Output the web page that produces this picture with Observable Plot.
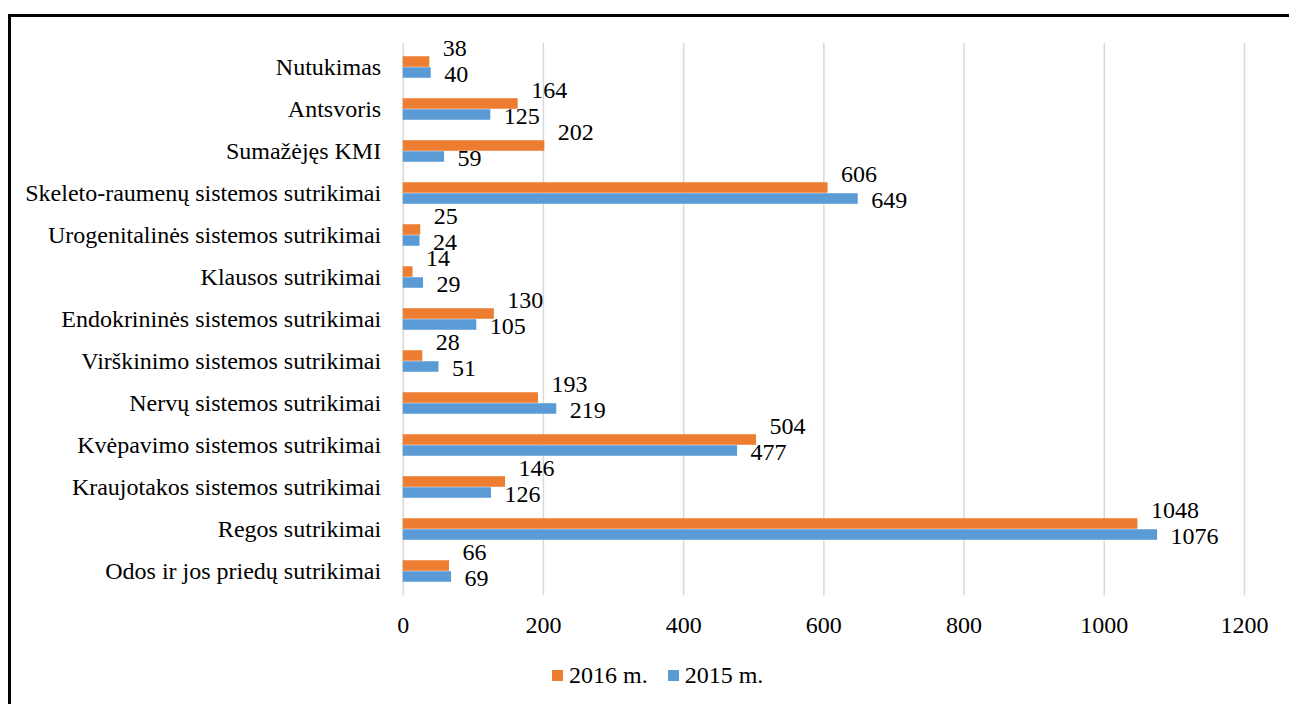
<!DOCTYPE html>
<html>
<head>
<meta charset="utf-8">
<script src="https://cdn.jsdelivr.net/npm/d3@7"></script>
<script src="https://cdn.jsdelivr.net/npm/@observablehq/plot@0.6"></script>
<style>
  html, body { margin: 0; padding: 0; background: #fff; overflow: hidden; }
  #wrap { position: relative; width: 1289px; height: 704px; overflow: hidden; background: #fff; font-family: "Liberation Serif", serif; }
  #frame { position: absolute; left: 8px; top: 14px; width: 1400px; height: 800px; border-left: 3px solid #000; border-top: 3px solid #000; box-sizing: border-box; }
  #chart { position: absolute; left: 0; top: 0; width: 1289px; }
  #legend { position: absolute; left: 552px; top: 662px; display: flex; align-items: center; font-size: 24px; color: #000; white-space: nowrap; }
  .sw { width: 11px; height: 11px; display: inline-block; margin-right: 6px; }
  .item { display: flex; align-items: center; margin-right: 20px; }
</style>
</head>
<body>
<div id="wrap">
  <div id="frame"></div>
  <div id="chart"></div>
  <div id="legend"></div>
</div>
<script>
const categories = [
  "Nutukimas",
  "Antsvoris",
  "Sumažėjęs KMI",
  "Skeleto-raumenų sistemos sutrikimai",
  "Urogenitalinės sistemos sutrikimai",
  "Klausos sutrikimai",
  "Endokrininės sistemos sutrikimai",
  "Virškinimo sistemos sutrikimai",
  "Nervų sistemos sutrikimai",
  "Kvėpavimo sistemos sutrikimai",
  "Kraujotakos sistemos sutrikimai",
  "Regos sutrikimai",
  "Odos ir jos priedų sutrikimai"
];
const values2016 = [38, 164, 202, 606, 25, 14, 130, 28, 193, 504, 146, 1048, 66];
const values2015 = [40, 125, 59, 649, 24, 29, 105, 51, 219, 477, 126, 1076, 69];
const series = ["2016 m.", "2015 m."];
const colors = ["#ED7D31", "#5B9BD5"];
const xTicks = [0, 200, 400, 600, 800, 1000, 1200];

const rows2016 = categories.map((c, i) => ({category: c, series: series[0], value: values2016[i]}));
const rows2015 = categories.map((c, i) => ({category: c, series: series[1], value: values2015[i]}));

const FONT = "Liberation Serif";
const FS = 24;
const H = 650, MT = 43, MB = 54.8;
const step = (H - MT - MB) / categories.length;
const barH = 11;
const half = step / 2;

const chart = Plot.plot({
  width: 1289,
  height: H,
  marginLeft: 402.7,
  marginRight: 45,
  marginTop: MT,
  marginBottom: MB,
  style: `font-family: '${FONT}', serif; font-size: ${FS}px; background: transparent; color: #000;`,
  x: {domain: [0, 1200], label: null},
  y: {domain: categories, padding: 0, label: null},
  color: {domain: series, range: colors},
  marks: [
    Plot.ruleX(xTicks, {stroke: "#d9d9d9", strokeWidth: 1.5}),
    Plot.axisX(xTicks, {tickSize: 0, tickPadding: 20, tickFormat: d => String(d), label: null, fontFamily: FONT, fontSize: FS}),
    Plot.axisY({tickSize: 0, tickPadding: 22, label: null, fontFamily: FONT, fontSize: FS}),
    Plot.barX(rows2016, {x: "value", y: "category", fill: "series", insetTop: half - barH, insetBottom: half}),
    Plot.barX(rows2015, {x: "value", y: "category", fill: "series", insetTop: half, insetBottom: half - barH}),
    Plot.text(rows2016, {x: "value", y: "category", text: d => String(d.value), textAnchor: "start", dx: 13, dy: -barH / 2 - 14, fill: "#000", fontFamily: FONT, fontSize: FS}),
    Plot.text(rows2015, {x: "value", y: "category", text: d => String(d.value), textAnchor: "start", dx: 13, dy: barH / 2 + 1.5, fill: "#000", fontFamily: FONT, fontSize: FS})
  ]
});
document.getElementById("chart").appendChild(chart);

const legend = document.getElementById("legend");
series.forEach((s, i) => {
  const item = document.createElement("div");
  item.className = "item";
  const sw = document.createElement("span");
  sw.className = "sw";
  sw.style.background = colors[i];
  const t = document.createElement("span");
  t.textContent = s;
  item.appendChild(sw);
  item.appendChild(t);
  legend.appendChild(item);
});
</script>
</body>
</html>
